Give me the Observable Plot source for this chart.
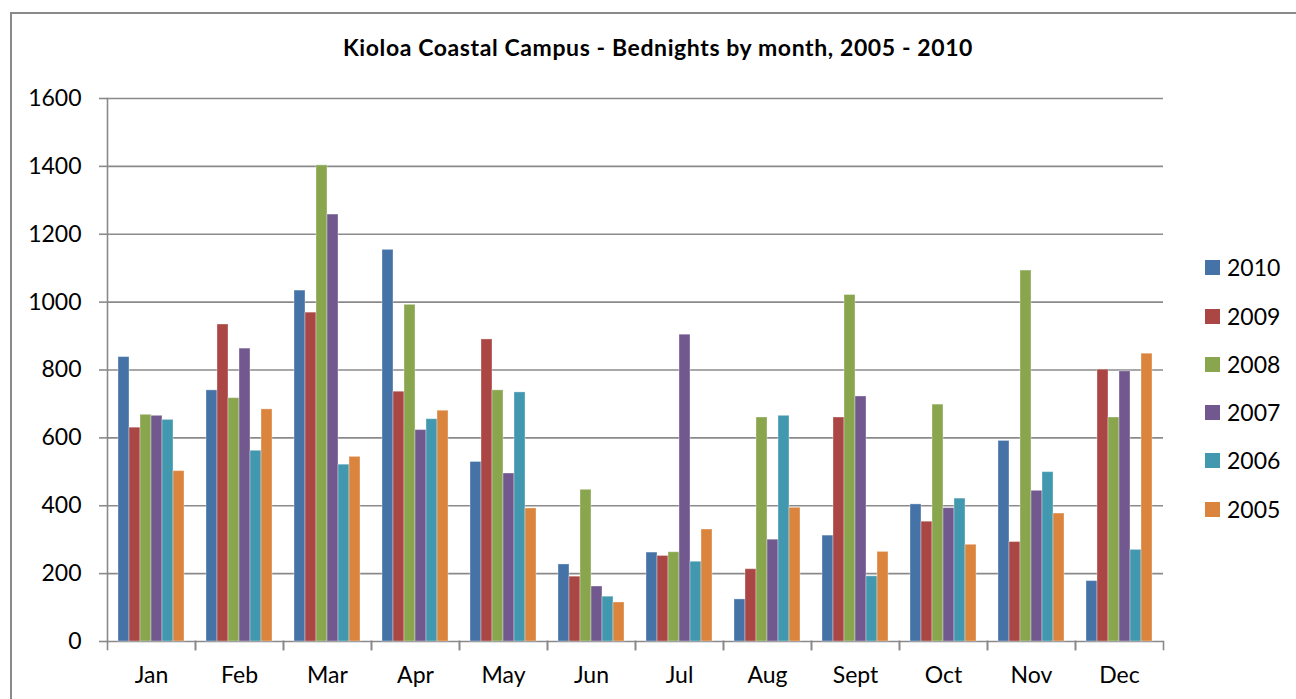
<!DOCTYPE html>
<html>
<head>
<meta charset="utf-8">
<script src="https://cdn.jsdelivr.net/npm/d3@7"></script>
<script src="https://cdn.jsdelivr.net/npm/@observablehq/plot@0.6"></script>
<style>
  html, body { margin: 0; padding: 0; background: #fff; }
  #wrap { position: relative; width: 1296px; height: 699px; overflow: hidden; font-family: Lato, "Open Sans", sans-serif; }
  #border { position: absolute; left: 10px; top: 12px; width: 1400px; height: 800px; border-left: 2px solid #8a8a8a; border-top: 2px solid #8a8a8a; box-sizing: border-box; }
  #title { position: relative; height: 70px; text-align: center; font-weight: bold; font-size: 23px; line-height: 23px; padding-top: 36px; box-sizing: border-box; color: #000; padding-left: 20px; letter-spacing: 0.6px; }
  #legend { position: absolute; left: 1205px; top: 0; }
  .item { position: absolute; left: 0; display: flex; align-items: center; height: 30px; white-space: nowrap; font-size: 23px; color: #000; }
  .sw { width: 15px; height: 15px; margin-right: 7px; flex: none; }
  svg { display: block; }
</style>
</head>
<body>
<div id="wrap">
  <div id="border"></div>
  <div id="title">Kioloa Coastal Campus - Bednights by month, 2005 - 2010</div>
  <div id="chart"></div>
  <div id="legend"></div>
</div>
<script>
const months = ["Jan", "Feb", "Mar", "Apr", "May", "Jun", "Jul", "Aug", "Sept", "Oct", "Nov", "Dec"];
const years = ["2010", "2009", "2008", "2007", "2006", "2005"];
const colors = ["#4572A7", "#AA4643", "#89A54E", "#71588F", "#4198AF", "#DB843D"];
const yTicks = [0, 200, 400, 600, 800, 1000, 1200, 1400, 1600];

const v2010 = [838, 740, 1034, 1154, 529, 227, 262, 124, 312, 404, 591, 178];
const v2009 = [630, 934, 969, 736, 890, 191, 252, 213, 660, 353, 293, 801];
const v2008 = [668, 717, 1403, 992, 740, 447, 263, 660, 1021, 698, 1093, 660];
const v2007 = [665, 863, 1258, 623, 495, 162, 904, 300, 722, 393, 444, 796];
const v2006 = [653, 562, 521, 655, 734, 132, 235, 665, 192, 421, 499, 270];
const v2005 = [502, 684, 544, 680, 392, 115, 330, 394, 264, 285, 377, 848];

const series = [v2010, v2009, v2008, v2007, v2006, v2005];
const data = [];
months.forEach((m, i) => {
  years.forEach((y, j) => {
    data.push({month: m, year: y, value: series[j][i]});
  });
});

const gridColor = "#8a8a8a";
const chart = Plot.plot({
  width: 1296,
  height: 629,
  marginLeft: 107,
  marginRight: 133,
  marginTop: 28,
  marginBottom: 58,
  style: {fontFamily: "Lato, 'Open Sans', sans-serif", fontSize: "23px", color: "#000", background: "transparent"},
  fx: {domain: months, padding: 0, label: null},
  x: {domain: years, paddingInner: 0, paddingOuter: 0.77, axis: null},
  y: {domain: [0, 1600], label: null},
  color: {domain: years, range: colors},
  marks: [
    Plot.ruleY(yTicks, {stroke: gridColor, strokeWidth: 1.6}),
    Plot.barY(data, {fx: "month", x: "year", y: "value", fill: "year", stroke: "white", strokeOpacity: 0.35, strokeWidth: 1, inset: 0}),
    Plot.frame({anchor: "left", stroke: gridColor, strokeWidth: 1.6, facetAnchor: "left"}),
    Plot.frame({anchor: "left", stroke: gridColor, strokeWidth: 1.6, insetTop: 543, insetBottom: -8}),
    Plot.frame({anchor: "right", stroke: gridColor, strokeWidth: 1.6, insetTop: 543, insetBottom: -8}),
    Plot.axisY({ticks: yTicks, tickSize: 8, tickPadding: 18, stroke: gridColor, strokeWidth: 1.6, label: null, fontSize: 23, tickFormat: d => String(d)}),
    Plot.axisFx({anchor: "bottom", tickSize: 0, tickPadding: 25, label: null, fontSize: 23})
  ]
});
document.getElementById("chart").appendChild(chart);

const legend = document.getElementById("legend");
const rowY = [267, 316, 364, 412, 460, 509];
years.forEach((y, j) => {
  const it = document.createElement("div");
  it.className = "item";
  it.style.top = (rowY[j] - 15) + "px";
  const sw = document.createElement("div");
  sw.className = "sw";
  sw.style.background = colors[j];
  const tx = document.createElement("span");
  tx.textContent = y;
  it.appendChild(sw);
  it.appendChild(tx);
  legend.appendChild(it);
});
</script>
</body>
</html>
